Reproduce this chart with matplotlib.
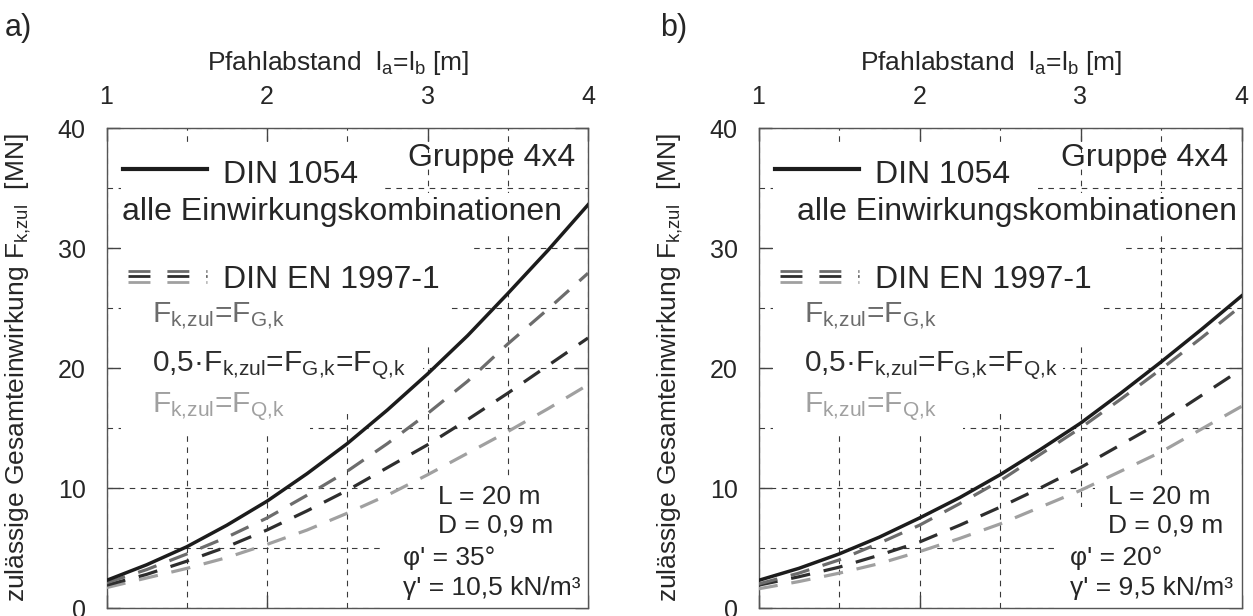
import matplotlib
matplotlib.use('Agg')
import matplotlib.pyplot as plt
from matplotlib.patches import Polygon

plt.rcParams['font.family'] = ['Liberation Sans', 'DejaVu Sans']
plt.rcParams['mathtext.fontset'] = 'custom'
plt.rcParams['mathtext.rm'] = 'Liberation Sans'
plt.rcParams['mathtext.default'] = 'regular'
plt.rcParams['lines.scale_dashes'] = False

# Pfahlabstand la = lb [m]
abstand = [1.0, 1.25, 1.5, 1.75, 2.0, 2.25, 2.5, 2.75, 3.0, 3.25, 3.5, 3.75, 4.0]

# a) phi' = 35 deg, zulaessige Gesamteinwirkung [MN]
a_din1054 = [2.3, 3.6, 5.1, 6.9, 8.9, 11.2, 13.7, 16.5, 19.5, 22.7, 26.2, 29.8, 33.6]
a_fgk = [2.1, 3.2, 4.5, 5.9, 7.5, 9.4, 11.4, 13.7, 16.2, 18.9, 22.0, 24.9, 27.9]
a_halb = [1.9, 2.8, 3.9, 5.1, 6.5, 8.1, 9.8, 11.7, 13.6, 15.7, 17.9, 20.2, 22.5]
a_fqk = [1.7, 2.5, 3.3, 4.2, 5.3, 6.5, 7.9, 9.4, 11.1, 12.9, 14.7, 16.6, 18.6]

# b) phi' = 20 deg
b_din1054 = [2.3, 3.3, 4.5, 5.9, 7.5, 9.2, 11.1, 13.2, 15.4, 17.9, 20.5, 23.2, 26.0]
b_fgk = [2.0, 2.9, 4.0, 5.4, 6.9, 8.7, 10.6, 12.8, 15.0, 17.4, 19.9, 22.5, 25.2]
b_halb = [1.9, 2.6, 3.4, 4.4, 5.5, 6.9, 8.4, 10.0, 11.7, 13.6, 15.5, 17.7, 19.9]
b_fqk = [1.6, 2.2, 2.9, 3.7, 4.7, 5.8, 7.0, 8.4, 9.8, 11.4, 13.0, 14.9, 16.8]

xticks = [1, 2, 3, 4]
xminor = [1.5, 2.5, 3.5]
yticks = [0, 10, 20, 30, 40]
yminor = [5, 15, 25, 35]

a_params = ['L = 20 m', 'D = 0,9 m', "\u03c6' = 35\u00b0", "\u03b3' = 10,5 kN/m\u00b3"]
b_params = ['L = 20 m', 'D = 0,9 m', "\u03c6' = 20\u00b0", "\u03b3' = 9,5 kN/m\u00b3"]

dark = '#262626'
c_fgk = '#6c6c6c'
c_halb = '#2e2e2e'
c_fqk = '#a0a0a0'


def panel(ax, din, fgk, halb, fqk, params, alle_x, alle_edge, row20_edge, par_x, par_mask):
	ax.set_xlim(1, 4)
	ax.set_ylim(0, 40)
	ax.xaxis.tick_top()
	ax.xaxis.set_label_position('top')
	ax.set_xticks(xticks)
	ax.set_xticks(xminor, minor=True)
	ax.set_yticks(yticks)
	ax.set_yticks(yminor, minor=True)
	ax.tick_params(which='major', direction='in', length=9.5, width=1.0, color='#444444',
		top=True, bottom=True, left=True, right=True, labeltop=True, labelbottom=False,
		labelsize=18, labelcolor=dark)
	ax.tick_params(which='minor', length=0)
	ax.tick_params(axis='x', pad=13.5)
	ax.tick_params(axis='y', pad=15)
	ax.grid(True, which='both', color='#3a3a3a', lw=0.8, linestyle=(0, (4, 4)))
	for s in ax.spines.values():
		s.set_color('#555555')
		s.set_linewidth(1.0)

	ax.set_xlabel('Pfahlabstand  l$_a$=l$_b$ [m]', fontsize=19, color=dark)
	ax.xaxis.set_label_coords(0.481, 1.1215)
	ax.set_ylabel('zul\u00e4ssige Gesamteinwirkung F$_{k{,}zul}$  [MN]', fontsize=19, color=dark)
	ax.yaxis.set_label_coords(-0.153, 0.5)

	# white areas behind the legend and the parameter texts (hide the grid)
	leg = [(1.09, 38.75), (2.735, 38.75), (2.735, 34.6), (alle_edge, 34.6), (alle_edge, 31.1),
		(3.265, 31.1), (3.265, 29.2), (3.13, 29.2), (3.13, 22.1), (row20_edge, 22.1),
		(row20_edge, 16.3), (2.27, 16.3), (2.27, 14.5), (1.09, 14.5)]
	ax.add_patch(Polygon(leg, closed=True, facecolor='white', edgecolor='none', zorder=1.6))
	ax.add_patch(Polygon(par_mask, closed=True, facecolor='white', edgecolor='none', zorder=1.6))

	# curves
	ax.plot(abstand, fqk, color=c_fqk, lw=2.3, dashes=(14, 10), zorder=3)
	ax.plot(abstand, halb, color=c_halb, lw=2.3, dashes=(14, 10), zorder=3)
	ax.plot(abstand, fgk, color=c_fgk, lw=2.3, dashes=(14, 10), zorder=3)
	ax.plot(abstand, din, color='#1c1c1c', lw=2.5, zorder=4)

	# legend by hand
	ax.plot([1.103, 1.626], [36.58, 36.58], color='#1c1c1c', lw=3.0, zorder=5, clip_on=False)
	ax.text(1.726, 35.42, 'DIN 1054', fontsize=23, color=dark, va='baseline', zorder=5)
	ax.text(3.919, 36.8, 'Gruppe 4x4', fontsize=23, color=dark, ha='right', va='baseline', zorder=5)
	ax.text(alle_x, 32.33, 'alle Einwirkungskombinationen', fontsize=23, color=dark,
		va='baseline', zorder=5)
	for yy, cc in [(28.1, c_fgk), (27.65, c_halb), (27.15, c_fqk)]:
		ax.plot([1.134, 1.626], [yy, yy], color=cc, lw=2.0, dashes=(15.8, 12.2), zorder=5)
	ax.text(1.726, 26.67, 'DIN EN 1997-1', fontsize=23, color=dark, va='baseline', zorder=5)
	ax.text(1.283, 23.75, 'F$_{k{,}zul}$=F$_{G{,}k}$', fontsize=21.5, color=c_fgk,
		va='baseline', zorder=5)
	ax.text(1.283, 19.67, '0,5\u00b7F$_{k{,}zul}$=F$_{G{,}k}$=F$_{Q{,}k}$', fontsize=21.5,
		color=c_halb, va='baseline', zorder=5)
	ax.text(1.283, 16.25, 'F$_{k{,}zul}$=F$_{Q{,}k}$', fontsize=21.5, color=c_fqk,
		va='baseline', zorder=5)

	# soil / pile parameters
	ax.text(par_x[0], 8.67, params[0], fontsize=19, color=dark, va='baseline', zorder=5)
	ax.text(par_x[0], 6.25, params[1], fontsize=19, color=dark, va='baseline', zorder=5)
	ax.text(par_x[1], 3.58, params[2], fontsize=19, color=dark, va='baseline', zorder=5)
	ax.text(par_x[1], 1.08, params[3], fontsize=19, color=dark, va='baseline', zorder=5)


W = 1253.0
H = 616.0
fig = plt.figure(figsize=(W / 100, H / 100), dpi=100)
ax1 = fig.add_axes([106.5 / W, 8 / H, 481.5 / W, 480 / H])
ax2 = fig.add_axes([758.5 / W, 8 / H, 483 / W, 480 / H])

panel(ax1, a_din1054, a_fgk, a_halb, a_fqk, a_params, 1.097, 3.89, 2.975, (3.065, 2.847),
	[(2.985, 10.67), (4.0, 10.67), (4.0, 0), (2.72, 0), (2.72, 9.0), (2.985, 9.0)])
panel(ax2, b_din1054, b_fgk, b_halb, b_fqk, b_params, 1.239, 4.0, 2.89, (3.171, 2.935),
	[(3.09, 10.67), (4.0, 10.67), (4.0, 0), (2.854, 0), (2.854, 8.4), (3.09, 8.4)])

fig.text(5 / W, 1 - 36 / H, 'a)', fontsize=22, color=dark, va='baseline')
fig.text(660 / W, 1 - 36 / H, 'b)', fontsize=22, color=dark, va='baseline')

fig.savefig('out.png', dpi=100)
